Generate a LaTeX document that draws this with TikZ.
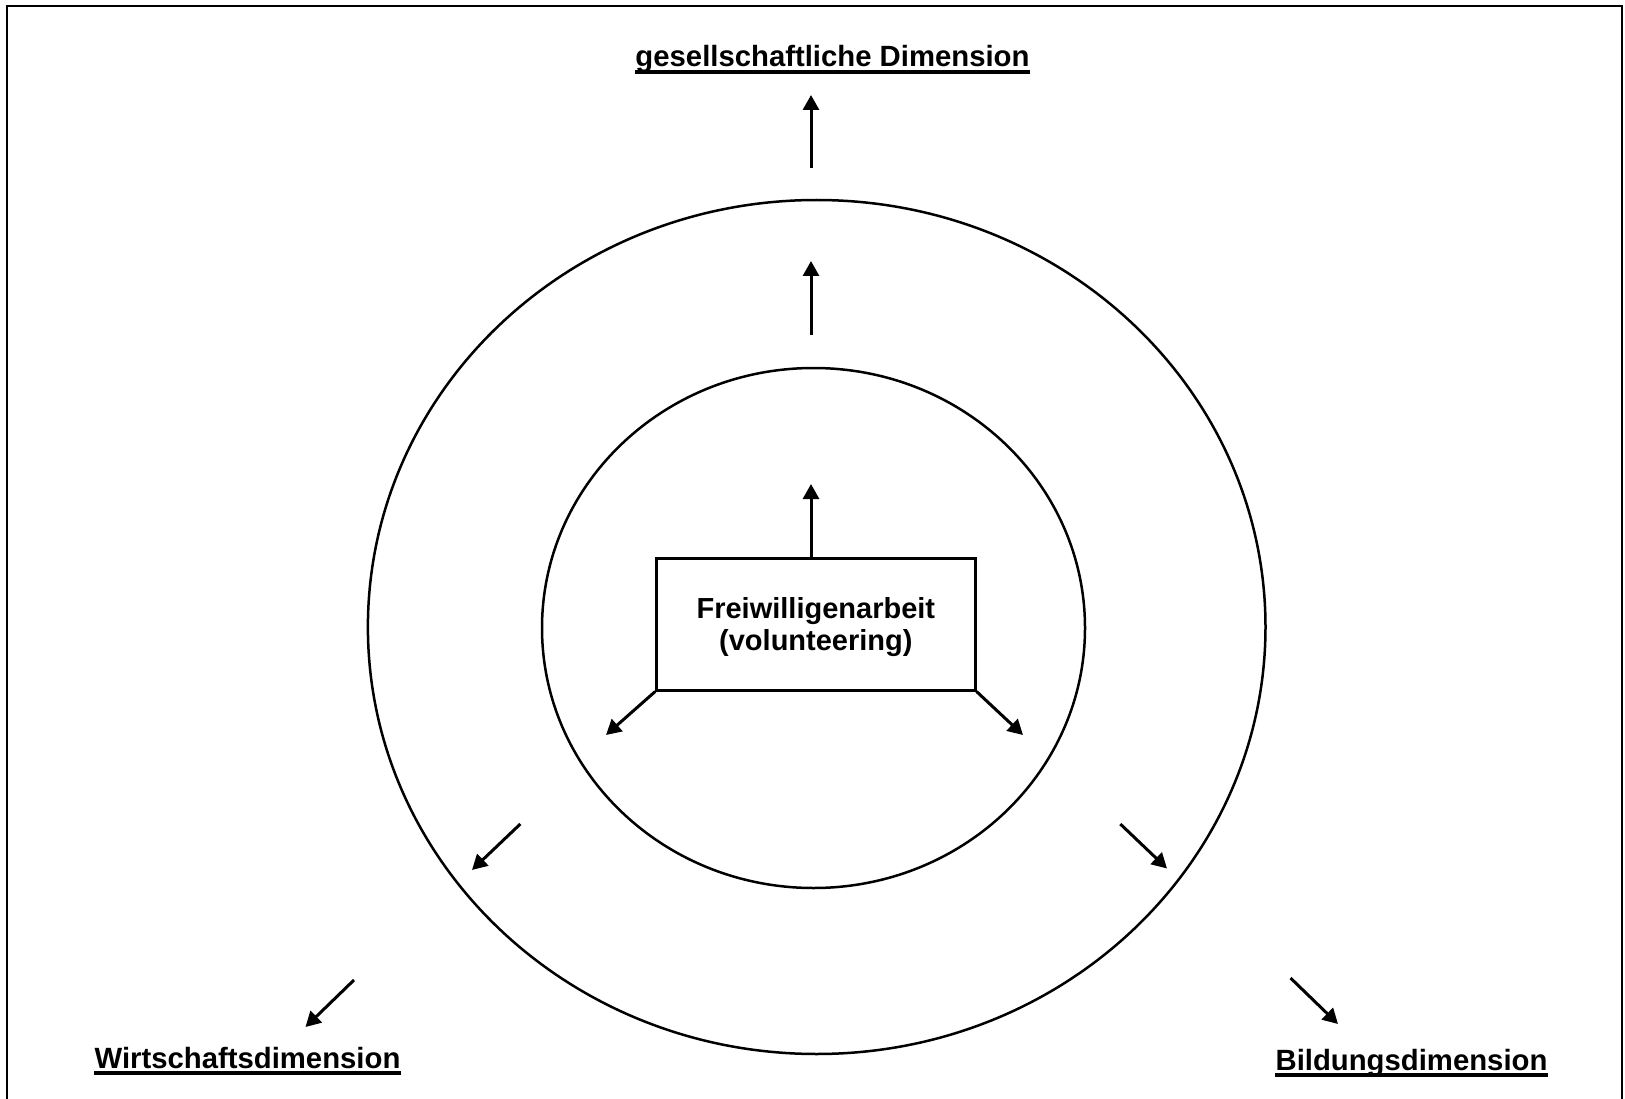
\documentclass[tikz,border=0pt]{standalone}
\usepackage{fontspec}
\setmainfont{Liberation Sans}
\usetikzlibrary{arrows.meta,shapes.geometric}
\begin{document}
\begin{tikzpicture}[x=1pt,y=-1pt,
  ring/.style={ellipse,draw,line width=2.5pt,inner sep=0pt},
  arr/.style={line width=3pt,-{Triangle[length=15pt,width=16pt]}},
  lab/.style={inner sep=0pt,anchor=base,font=\bfseries\fontsize{29.3}{35}\selectfont},
  uline/.style={line width=4.5pt}]
\useasboundingbox (0,0) rectangle (1625,1099);
% frame (open at the bottom)
\draw[line width=2.5pt] (7,1099) -- (7,6) -- (1622,6) -- (1622,1099);
% rings
\node[ring,minimum width=897.6pt,minimum height=854pt] (outer) at (816.7,627) {};
\node[ring,minimum width=543pt,minimum height=520pt] (inner) at (813.5,628) {};
% central box
\node[draw,line width=3pt,minimum width=318.3pt,minimum height=131.7pt,inner sep=0pt] (box) at (815.85,624.15) {};
\node[inner sep=0pt,align=center,font=\bfseries\fontsize{29}{32}\selectfont] (boxtxt)
  at ([yshift=-3pt]box.center) {Freiwilligenarbeit\\(volunteering)};
% labels
\node[lab] (gd) at (832.5,67) {gesellschaftliche Dimension};
\draw[uline] ([yshift=-5pt]gd.base west) -- ([yshift=-5pt]gd.base east);
\node[lab] (wd) at (247.5,1068.5) {Wirtschaftsdimension};
\draw[uline] ([yshift=-4.5pt]wd.base west) -- ([yshift=-4.5pt]wd.base east);
\node[lab] (bd) at (1411.5,1070) {Bildungsdimension};
\draw[uline] ([yshift=-5pt]bd.base west) -- ([yshift=-5pt]bd.base east);
% arrow end points
\coordinate (a1s) at (811,168);   \coordinate (a1e) at (811,95);
\coordinate (a2s) at (811,335);   \coordinate (a2e) at (811,261);
\coordinate (a3e) at (811,484);
\coordinate (a4e) at (606,735);
\coordinate (a5e) at (1023,735);
\coordinate (a6s) at (520.3,824); \coordinate (a6e) at (472,870);
\coordinate (a7s) at (1120.3,824);\coordinate (a7e) at (1167,868.5);
\coordinate (a8s) at (354,980);   \coordinate (a8e) at (305.5,1027);
\coordinate (a9s) at (1290.5,978);\coordinate (a9e) at (1338,1024);
% arrows
\draw[arr] (a1s) -- (a1e);
\draw[arr] (a2s) -- (a2e);
\draw[arr] (a3e |- box.north) -- (a3e);
\draw[arr] (box.south west) -- (a4e);
\draw[arr] (box.south east) -- (a5e);
\draw[arr] (a6s) -- (a6e);
\draw[arr] (a7s) -- (a7e);
\draw[arr] (a8s) -- (a8e);
\draw[arr] (a9s) -- (a9e);
\end{tikzpicture}
\end{document}
